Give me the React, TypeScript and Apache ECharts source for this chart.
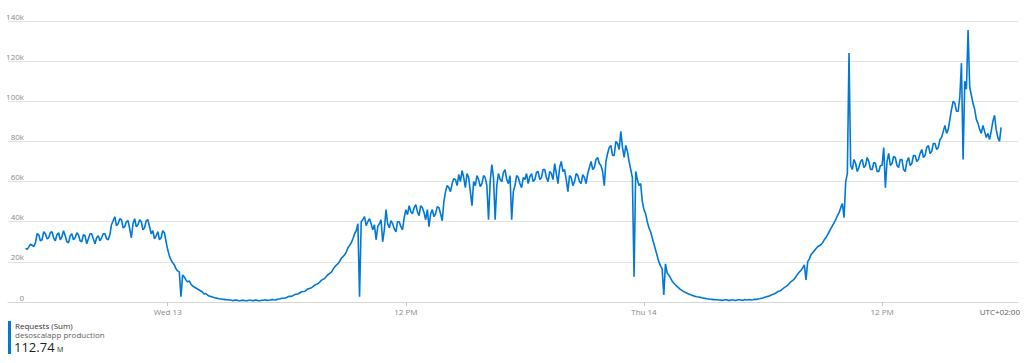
import React, { useEffect, useRef } from "react";
import * as echarts from "echarts";

// Requests (Sum), in thousands, one sample every 5 minutes starting Tue 12 16:50 (UTC+02:00)
const START_HOUR = -7 - 10 / 60; // hours relative to Wed 13 00:00
const STEP_HOUR = 5 / 60;

const requestsK: number[] = [
  // Tue evening
  26.7, 26.2, 27.5, 28.8, 28.3, 27.6, 29.5, 34,
  33.5, 30.5, 31, 35, 34, 31.5, 32, 34.5, 35, 32, 30.5, 33.5, 34.5, 31, 32.5, 35.5, 33, 30, 29.5, 33,
  34, 31, 32, 34.5, 33.5, 30.5, 30, 33.5, 33, 29, 31.5, 34, 34, 31.5, 29, 32, 33, 30.5, 32, 34, 34, 31.5, 31, 33.5,
  38.5, 40.5, 42.5, 38, 39, 41.5, 41, 37, 37.5, 40, 40.5, 36.5, 32, 39, 41.5, 37.5, 38.5, 41, 40, 36, 37, 40.5, 41, 37.5,
  34, 35.5, 31.5, 33, 35, 31, 32, 35.5, 34.5, 30,
  // night decline
  26, 23, 21, 19.5, 18.5, 16.5, 15.5, 15, 2.6, 13.5, 12.5, 11, 10, 10.5, 9, 8, 7.5, 7, 6.5, 6, 5.5, 5, 4, 4.2,
  3.5, 3, 2.8, 2.5, 2.2, 2, 1.8, 1.6, 1.5, 1.4, 1.3, 1.2, 1.1, 1.0,
  1.0, 0.7, 0.8, 1.0, 0.9, 0.6, 0.7, 0.9, 0.8, 0.6, 0.6, 0.9, 0.9, 0.7, 0.7, 1.0, 0.8, 0.6, 0.7, 0.9,
  0.9, 1.1, 0.8, 0.9, 1.0, 1.3, 1.1, 1.0, 1.3, 1.5,
  // Wed morning ramp
  1.6, 1.9, 1.9, 2.0, 2.3, 2.7, 2.8, 2.9, 3.3, 3.8, 3.9, 4.1, 4.6, 5.1, 5.2, 5.4, 6.0, 6.6, 6.8, 7.1,
  7.8, 8.5, 8.9, 9.2, 10, 10.9, 11.3, 11.8, 12.8, 13.7, 14.3, 14.9, 16.3, 17.5, 18.4, 19.1, 20.3, 21.8,
  22.6, 23.5, 25, 27, 28.2, 29.5, 31.5, 34, 35.5, 39,
  // Wed day
  2.6, 40, 41, 42.5, 38, 40, 41.5, 39, 36, 38.5, 31, 37.5, 39, 41, 30, 36, 46, 39, 37, 40.5, 39, 36.5,
  35, 40, 40, 37.5, 36, 42,
  46, 43.5, 48, 45, 44, 47, 48.5, 45, 43, 48, 47, 44.5, 41, 46, 37.5, 44, 46, 42.5, 44, 47.5, 47, 44, 40.5, 50,
  55, 58, 57, 55, 59, 61.5, 61, 58, 63.5, 60, 65.5, 62, 57, 64, 62, 55, 48, 60, 58, 63, 61, 57.5, 59, 63, 62, 58,
  41, 60, 68.5, 62, 41, 58, 64, 61, 60, 64.5, 66, 61, 59, 63, 41, 55, 58, 63, 62, 59, 57, 62, 61, 64,
  59, 62.5, 64, 60, 61, 64.5, 65, 61, 62, 66, 66, 62, 60, 65, 64, 61,
  69, 64, 59, 67, 70, 65, 66, 61, 55, 63, 62, 58, 60, 64, 63, 60, 59, 63.5, 62, 59, 64, 67, 70, 66,
  67, 71, 72, 69, 68, 65, 58, 70, 74, 77, 78, 73, 73, 80, 79, 76, 85, 77, 72, 78, 75, 70, 66, 62,
  // Wed evening decline
  12.6, 65, 61, 58, 59, 50, 46, 44, 40, 37, 35, 32, 29, 26, 23, 20, 18, 16.5, 3.5, 19, 14.5, 13.5,
  12, 10.5, 9.5, 8.6, 7.8, 7, 6.3, 5.8, 5.2, 4.8, 4.4, 4.0, 3.7, 3.3, 3.1, 2.8, 2.6, 2.5, 2.3, 2.1,
  1.9, 1.8, 1.6, 1.5, 1.4, 1.3, 1.2, 1.1, 1.1, 1.0,
  1.0, 0.8, 0.9, 1.1, 1.1, 0.8, 0.8, 1.0, 1.0, 0.7, 0.9, 1.1, 1.1, 0.9, 0.9, 1.2, 1.0, 1.1, 1.2, 1.0,
  1.1, 1.4, 1.3, 1.5,
  // Thu morning ramp
  1.6, 1.9, 2.0, 2.4, 2.6, 2.8, 3.1, 3.5, 3.8, 4.1, 4.6, 5.2, 5.5, 5.9, 6.6, 7.3, 7.8, 8.4, 9.3, 10.2,
  10.8, 11.5, 12.8, 14, 15, 15.8, 17, 18.5, 11, 20, 21.5, 23.5, 24.5, 25.5, 26.5, 27.5, 28, 28.5,
  29.5, 31, 32, 33.5, 35, 36.5, 38, 39.5, 41, 43, 44.5, 47, 49, 42,
  // Thu day
  60, 64, 124, 68, 66, 71, 69, 65, 67, 70, 71, 67, 68, 72, 70, 66, 66, 69.5, 69, 65, 65, 68, 68, 77,
  57, 70, 74, 68, 69, 72.5, 72, 68, 67, 71, 71, 66, 65, 70, 72, 68, 69, 73, 73, 70, 71, 74, 76, 72,
  73, 77, 78, 74, 75, 79, 79, 76, 77, 81, 82, 85, 88, 84, 86, 91, 96, 100, 99, 95, 95, 102,
  119, 71, 110, 106, 135.5, 107, 103, 99, 96, 91, 89, 86, 84, 88, 85, 82, 84, 81, 85, 90, 93, 86,
  82, 80, 87,
];

const xTickHours = [0, 12, 24, 36];
const xTickLabels = ["Wed 13", "12 PM", "Thu 14", "12 PM"];
const yTicksK = [0, 20, 40, 60, 80, 100, 120, 140];

const metricName = "Requests (Sum)";
const resourceName = "desoscalapp production";
const totalValue = "112.74";
const totalUnit = "M";
const timeZoneLabel = "UTC+02:00";

const FONT = "'Open Sans', 'Noto Sans', sans-serif";

export default function App() {
  const ref = useRef<HTMLDivElement>(null);

  useEffect(() => {
    if (!ref.current) return;
    const chart = echarts.init(ref.current, undefined, { renderer: "svg" });
    const seriesData = requestsK.map((v, i) => [START_HOUR + i * STEP_HOUR, v]);

    chart.setOption({
      animation: false,
      textStyle: { fontFamily: FONT },
      grid: { left: 8, right: 6, top: 21, bottom: 61, containLabel: false },
      xAxis: {
        type: "value",
        min: -8.05,
        max: 42.85,
        splitLine: { show: false },
        axisLine: { show: true, lineStyle: { color: "#d6d6d6", width: 1 } },
        axisTick: {
          show: true,
          customValues: xTickHours,
          length: 4,
          lineStyle: { color: "#c8c8c8" },
        },
        axisLabel: {
          customValues: xTickHours,
          formatter: (v: number) => {
            const idx = xTickHours.indexOf(Math.round(v));
            return idx >= 0 ? xTickLabels[idx] : "";
          },
          fontSize: 8,
          color: "#8a8886",
          margin: 5,
          fontFamily: FONT,
        },
      },
      yAxis: {
        type: "value",
        min: 0,
        max: 140,
        interval: 20,
        axisLine: { show: false },
        axisTick: { show: false },
        splitLine: { show: true, lineStyle: { color: "#e3e3e3", width: 1 } },
        axisLabel: {
          inside: true,
          align: "right",
          verticalAlign: "bottom",
          margin: 16,
          padding: [0, 0, 1, 0],
          fontSize: 8,
          color: "#8a8886",
          fontFamily: FONT,
          formatter: (v: number) => (v === 0 ? "0" : `${v}k`),
          customValues: yTicksK,
        },
      },
      series: [
        {
          type: "line",
          data: seriesData,
          showSymbol: false,
          symbol: "none",
          lineStyle: { color: "#0078d4", width: 1.6 },
          z: 3,
        },
      ],
      graphic: [
        {
          type: "text",
          right: 4,
          top: 307,
          style: { text: timeZoneLabel, fontSize: 8, fill: "#605e5c", fontFamily: FONT },
        },
        {
          type: "rect",
          shape: { x: 8, y: 321, width: 3, height: 33 },
          style: { fill: "#0078d4" },
        },
        {
          type: "text",
          x: 15,
          y: 321,
          style: { text: metricName, fontSize: 8, lineHeight: 8, fill: "#323130", fontFamily: FONT },
        },
        {
          type: "text",
          x: 15,
          y: 330,
          style: { text: resourceName, fontSize: 8, lineHeight: 8, fill: "#605e5c", fontFamily: FONT },
        },
        {
          type: "text",
          x: 14,
          y: 340,
          style: { text: totalValue, fontSize: 13, lineHeight: 13, fill: "#201f1e", fontFamily: FONT },
        },
        {
          type: "text",
          x: 57,
          y: 346,
          style: { text: totalUnit, fontSize: 7, lineHeight: 7, fill: "#201f1e", fontFamily: FONT },
        },
      ],
    });

    return () => chart.dispose();
  }, []);

  return (
    <div
      ref={ref}
      style={{ position: "fixed", left: 0, top: 0, width: 1024, height: 363, background: "#ffffff" }}
    />
  );
}
